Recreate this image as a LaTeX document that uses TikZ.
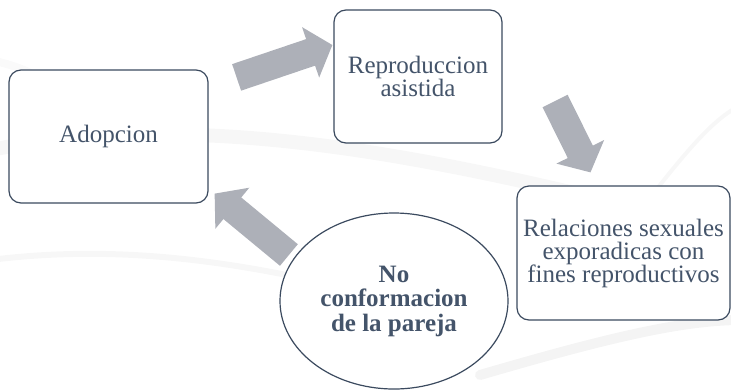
\documentclass[tikz,border=0pt]{standalone}
\usepackage{fontspec}
\setmainfont{Liberation Serif}
\newfontfamily\timesfont{Liberation Serif}
\usetikzlibrary{arrows.meta,positioning,calc,shapes.geometric,backgrounds}
\definecolor{slate}{HTML}{44546A}
\definecolor{edgec}{HTML}{3B4A5F}
\definecolor{arrgray}{HTML}{ADB0B8}

\begin{document}
\begin{tikzpicture}[x=1pt, y=-1pt,
  box/.style={draw=edgec, line width=1.2pt, fill=white, rounded corners=12pt, text=slate, align=center, inner sep=0pt, font=\timesfont\fontsize{25}{23}\selectfont},
  flow/.style={draw=arrgray, line width=28pt, -{Triangle[length=23pt, width=52pt]}},
  swoosh/.style={line width=#1, draw=gray!6, line cap=round}]
\useasboundingbox (0,0) rectangle (731,389);

\node[box, minimum width=199pt, minimum height=133pt] (adop) at (108.5,136.5) {Adopcion};
\node[box, minimum width=168pt, minimum height=133pt] (repro) at (418,76.5) {Reproduccion\\asistida};
\node[box, minimum width=213pt, minimum height=134pt] (rel) at (623.5,253) {Relaciones sexuales\\exporadicas con\\fines reproductivos};
\node[ellipse, draw=edgec, line width=1.2pt, fill=white, minimum width=228pt, minimum height=176pt, inner sep=0pt, text=slate, align=center, font=\timesfont\bfseries\fontsize{25}{24.5}\selectfont] (nocon) at (394,301) {No\\conformacion\\de la pareja};

\begin{scope}[on background layer]
% faint swooshes behind everything
\draw[swoosh=14pt] (-10,150) .. controls (200,110) and (420,150) .. (741,235);
\draw[swoosh=6pt] (-10,260) .. controls (150,240) and (300,270) .. (500,330);
\draw[swoosh=10pt, draw=gray!9] (480,375) .. controls (600,340) and (680,320) .. (741,320);
\draw[swoosh=4pt] (640,210) .. controls (680,160) and (710,120) .. (741,105);
\draw[swoosh=8pt, draw=gray!4] (-10,60) .. controls (40,70) and (60,90) .. (80,120);

\draw[flow] ($(adop.north east)+(28,8)$) -- ($(repro.west)+(-1,-31.5)$);
\draw[flow] ($(repro.east)+(52.5,24.5)$) -- ($(rel.north)+(-33,-13)$);
\draw[flow] ($(nocon.west)+(9.5,-46)$) -- ($(adop.south east)+(6,-10)$);
\end{scope}
\end{tikzpicture}
\end{document}
